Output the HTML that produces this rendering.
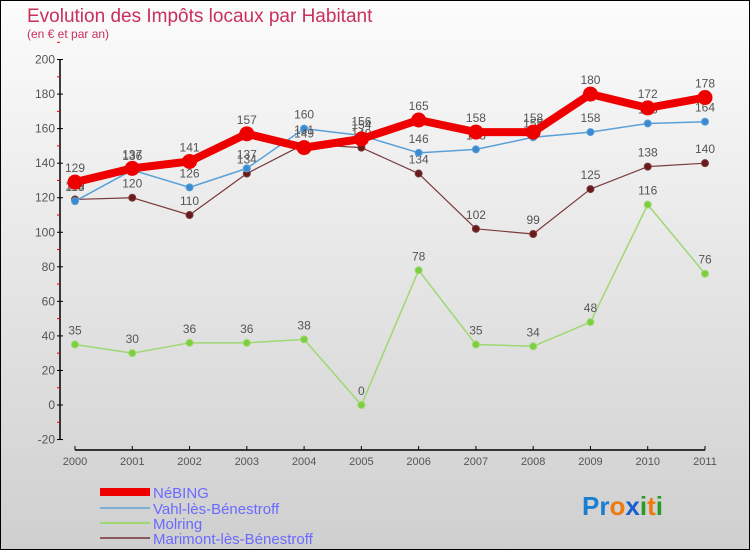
<!DOCTYPE html>
<html><head><meta charset="utf-8"><style>
body{margin:0;width:750px;height:550px;overflow:hidden;font-family:"Liberation Sans",sans-serif}
#wrap{position:absolute;left:0;top:0;width:748px;height:548px;border:1px solid #000;background:linear-gradient(#fcfcfc,#cfcfcf)}
</style></head><body>
<div id="wrap">
<svg id="chart" width="750" height="550" style="position:absolute;left:-1px;top:-1px">
<text x="27" y="22" font-size="19" fill="#c8305a">Evolution des Impôts locaux par Habitant</text>
<text x="27" y="38" font-size="12" fill="#c8305a">(en € et par an)</text>
<g id="axes"></g><g id="series"></g>
<g font-size="15" fill="#6a6aff">
<rect x="100" y="488" width="50" height="8" fill="#e00"/>
<text x="153" y="498">NéBING</text>
<rect x="100" y="507" width="50" height="2" fill="#7aaed6"/>
<text x="153" y="514">Vahl-lès-Bénestroff</text>
<rect x="100" y="522" width="50" height="2" fill="#9fd870"/>
<text x="153" y="529">Molring</text>
<rect x="100" y="537" width="50" height="2" fill="#8a5a5a"/>
<text x="153" y="544">Marimont-lès-Bénestroff</text>
</g>
<g font-size="26" font-weight="bold">
<text x="582" y="515"><tspan fill="#1a7fd0">Pr</tspan><tspan fill="#f07a10">o</tspan><tspan fill="#1a5fd0">x</tspan><tspan fill="#2a9a2a">i</tspan><tspan fill="#f07a10">t</tspan><tspan fill="#2a9a2a">i</tspan></text>
</g>
</svg></div>
<script>
const years=["2000","2001","2002","2003","2004","2005","2006","2007","2008","2009","2010","2011"];
const yTicks=[-20,0,20,40,60,80,100,120,140,160,180,200];
const nebing=[129,137,141,157,149,154,165,158,158,180,172,178];
const vahl=[118,136,126,137,160,156,146,148,155,158,163,164];
const molring=[35,30,36,36,38,0,78,35,34,48,116,76];
const marimont=[119,120,110,134,151,149,134,102,99,125,138,140];
const NS="http://www.w3.org/2000/svg";
function X(i){return 75+i*(630/11);}
function Y(v){return 405-v*1.7273;}
function mk(t,a,p){const e=document.createElementNS(NS,t);for(const k in a)e.setAttribute(k,a[k]);p.appendChild(e);return e;}
const ax=document.getElementById('axes');
const ya=mk('line',{x1:60,y1:Y(200),x2:60,y2:Y(-20),stroke:'#000','stroke-width':1.5},ax);


yTicks.forEach(v=>{
 mk('line',{x1:57,x2:63,y1:Y(v),y2:Y(v),stroke:'#000'},ax);
 mk('line',{x1:57,x2:60,y1:Y(v+10),y2:Y(v+10),stroke:'#e00'},ax);
 const t=mk('text',{x:55,y:Y(v)+4,'text-anchor':'end','font-size':12,fill:'#555'},ax);
 t.textContent=v;
 
 
});
const xa=mk('line',{x1:X(0),y1:450,x2:X(11),y2:450,stroke:'#000','stroke-width':1.5},ax);


years.forEach((y,i)=>{
 mk('line',{x1:X(i),x2:X(i),y1:446,y2:450,stroke:'#000'},ax);
 const t=mk('text',{x:X(i),y:465,'text-anchor':'middle','font-size':11,fill:'#555'},ax);
 t.textContent=y;
 
 
});
const sg=document.getElementById('series');
function draw(name,vals,color,w,r,dot){
 const g=mk('g',{},sg);
 
 
 mk('polyline',{points:vals.map((v,i)=>X(i)+','+Y(v)).join(' '),fill:'none',stroke:color,'stroke-width':w,'stroke-linejoin':'round'},g);
 vals.forEach((v,i)=>{
  const c=mk('circle',{cx:X(i),cy:Y(v),r:r,fill:dot,stroke:color,'stroke-width':1},g);
  
  
  const t=mk('text',{x:X(i),y:Y(v)-10,'text-anchor':'middle','font-size':12,fill:'#555'},g);
  t.textContent=v;
  
  
 });
}
draw('molring',molring,'#9fd870',1.5,3.5,'#7cd040');
draw('marimont',marimont,'#7a3a3a',1.2,3.5,'#6a1a1a');
draw('vahl',vahl,'#5aa0d8',1.5,3.5,'#3a8ad0');
draw('nebing',nebing,'#e00',8,7,'#e00');
</script>
</body></html>
